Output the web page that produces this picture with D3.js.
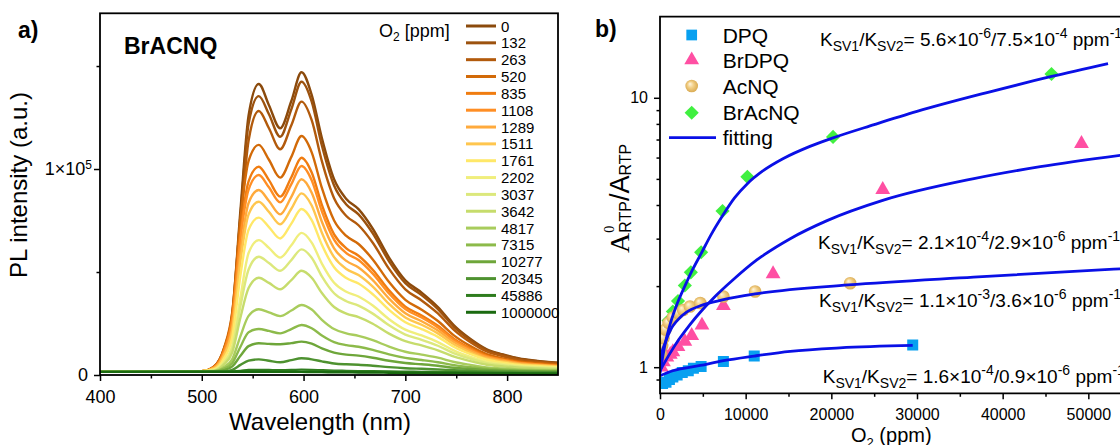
<!DOCTYPE html>
<html lang="en">
<head>
<meta charset="utf-8">
<title>BrACNQ oxygen quenching</title>
<script src="https://cdn.jsdelivr.net/npm/d3@7"></script>
<style>
  body { margin: 0; background: #fff; }
  svg { display: block; font-family: "Liberation Sans", Arial, sans-serif; }
  .axis line { stroke: #000; stroke-width: 1.5px; }
  .axis path { display: none; }
  .axis text { fill: #000; font-family: "Liberation Sans", Arial, sans-serif; }
</style>
</head>
<body>
<script>
// ---------- panel a: PL spectra, intensity in units of 10^3 a.u. ----------
const wavelengths = [400, 500, 512, 522, 530, 538, 546, 556, 566, 577, 588, 598, 608, 618, 630, 642, 654, 668, 684, 700, 716, 732, 748, 764, 780, 796, 812, 828, 850];

const s0 = [1.5, 1.8, 4.0, 13, 30, 80, 126, 141.3, 131, 119.8, 133, 147, 136, 115, 95, 85.5, 80.5, 71, 57, 46, 40, 33, 24, 17.5, 12.5, 10, 8, 7, 6];
const s132 = [1.5, 1.8, 3.9, 12.6, 29.1, 77.5, 122, 135.4, 126.6, 115.7, 129, 142.4, 132.7, 111.4, 92, 82.8, 78, 68.8, 55.2, 44.6, 38.8, 32, 23.3, 17, 12.1, 9.7, 7.8, 6.8, 5.8];
const s263 = [1.5, 1.8, 3.7, 11.8, 27.2, 72.3, 113.8, 128.2, 119.8, 109.6, 121.2, 132.7, 123.7, 103.8, 85.8, 77.2, 72.7, 64.2, 51.5, 41.6, 36.2, 29.9, 21.8, 15.9, 11.4, 9.1, 7.3, 6.4, 5.5];
const s520 = [1.5, 1.8, 4.1, 13.3, 30.7, 75.6, 104, 111.7, 104.5, 95.8, 105.9, 116, 108.1, 90.8, 75, 67.5, 63.6, 56.1, 45.1, 36.5, 31.7, 26.2, 19.1, 14, 10.1, 8.1, 6.6, 5.8, 5];
const s835 = [1.5, 1.8, 3.8, 12.1, 28, 68.8, 94, 101.1, 94.6, 86.6, 96, 105.5, 98.3, 82.6, 68.3, 61.5, 57.9, 51.1, 41.1, 33.2, 28.9, 23.9, 17.5, 12.9, 9.3, 7.5, 6.1, 5.3, 4.6];
const s1108 = [1.5, 1.8, 3.7, 11.7, 27, 66.2, 90, 97.1, 91.1, 83.8, 92.7, 101.5, 94.6, 79.5, 65.7, 59.2, 55.8, 49.2, 39.6, 32, 27.9, 23.1, 16.9, 12.4, 9, 7.3, 5.9, 5.2, 4.5];
const s1289 = [1.5, 1.8, 3.4, 10.3, 23.4, 59.5, 83.5, 89.8, 84.5, 78, 86.5, 95, 88.5, 74.4, 61.5, 55.4, 52.2, 46.1, 37.1, 30, 26.1, 21.6, 15.9, 11.7, 8.5, 6.9, 5.6, 4.9, 4.3];
const s1511 = [1.5, 1.8, 3.2, 9.6, 21.8, 55.3, 78, 84.1, 79.2, 73.2, 80.7, 88.2, 82.3, 69.1, 57.2, 51.5, 48.5, 42.9, 34.5, 27.9, 24.4, 20.2, 14.8, 10.9, 7.9, 6.5, 5.3, 4.7, 4.1];
const s1761 = [1.5, 1.8, 2.7, 8.2, 18.5, 48.4, 70.5, 76.4, 71.8, 66.3, 73.5, 80.6, 75.2, 63.2, 52.3, 47.1, 44.4, 39.2, 31.6, 25.6, 22.3, 18.5, 13.6, 10.1, 7.4, 6, 4.9, 4.4, 3.8];
const s2202 = [1.5, 1.8, 2.5, 6.7, 14.6, 37.8, 59.2, 65.5, 61.7, 57, 63, 69, 64.3, 54.1, 44.8, 40.4, 38.1, 33.7, 27.1, 22, 19.2, 16, 11.8, 8.8, 6.5, 5.3, 4.4, 3.9, 3.4];
const s3037 = [1.5, 1.8, 2.3, 6, 13, 33.5, 51.2, 57.4, 54.4, 50.6, 55.8, 61, 56.9, 47.9, 39.7, 35.8, 33.7, 29.8, 24.1, 19.6, 17.1, 14.2, 10.5, 7.9, 5.8, 4.8, 4, 3.6, 3.2];
const s3642 = [1.5, 1.8, 2.1, 5.2, 11, 27.9, 42.2, 47.2, 44.7, 41.6, 46.1, 50.6, 47.2, 39.8, 33, 29.8, 28.1, 24.9, 20.1, 16.4, 14.4, 12, 8.9, 6.7, 5, 4.2, 3.5, 3.2, 2.8];
const s4817 = [1.5, 1.7, 1.8, 3.9, 7.7, 18.9, 28.7, 31.9, 30.4, 28.6, 31.3, 34, 31.8, 26.8, 22.3, 20.2, 19, 16.9, 13.8, 11.3, 9.9, 8.4, 6.3, 4.9, 3.7, 3.2, 2.7, 2.5, 2.3];
const s7315 = [1.5, 1.7, 1.8, 3.1, 5.8, 13.7, 20.8, 22.3, 21.4, 20.2, 22.3, 24.3, 22.7, 19.2, 16, 14.5, 13.7, 12.2, 10, 8.3, 7.3, 6.2, 4.8, 3.8, 3, 2.6, 2.3, 2.1, 2];
const s10277 = [1.5, 1.6, 1.7, 2.4, 4.2, 9.3, 14, 15.4, 15.1, 14.9, 15.5, 16.2, 15.2, 12.9, 10.9, 9.9, 9.4, 8.4, 6.9, 5.8, 5.2, 4.5, 3.5, 2.9, 2.4, 2.1, 1.9, 1.8, 1.7];
const s20345 = [1.5, 1.5, 1.6, 1.7, 2.5, 4.9, 7, 7.6, 6.9, 6.2, 7.2, 8.1, 7.6, 6.6, 5.6, 5.2, 5, 4.5, 3.8, 3.3, 3, 2.7, 2.3, 2, 1.7, 1.6, 1.5, 1.4, 1.4];
const s45886 = [1.5, 1.5, 1.5, 1.5, 1.7, 2.0, 2.4, 2.5, 2.4, 2.3, 2.4, 2.6, 2.5, 2.3, 2.1, 2.0, 1.9, 1.8, 1.7, 1.6, 1.5, 1.4, 1.3, 1.2, 1.1, 1.0, 0.9, 0.9, 0.8];
const s1000000 = [1.5, 1.6, 1.6, 1.6, 1.6, 1.6, 1.6, 1.6, 1.5, 1.5, 1.5, 1.5, 1.4, 1.4, 1.3, 1.3, 1.2, 1.2, 1.1, 1.0, 1.0, 0.9, 0.9, 0.8, 0.8, 0.7, 0.7, 0.6, 0.6];

const o2Labels = ["0", "132", "263", "520", "835", "1108", "1289", "1511", "1761", "2202", "3037", "3642", "4817", "7315", "10277", "20345", "45886", "1000000"];
const spectra = [s0, s132, s263, s520, s835, s1108, s1289, s1511, s1761, s2202, s3037, s3642, s4817, s7315, s10277, s20345, s45886, s1000000];
const specColors = ["#8b4a0c", "#9c520e", "#b25a0c", "#d26a08", "#f07c10", "#ff8e24", "#ffaa3c", "#ffc64e", "#ffe868", "#f0ee7c", "#dce87c", "#c6dc6c", "#a8cc5c", "#8cba4a", "#6ea63a", "#4e9230", "#2e7c1e", "#1a6a10"];

// ---------- panel b: A0/A vs O2 ----------
const dpqO2 = [300, 700, 1100, 1500, 2000, 2600, 3300, 3900, 4800, 7400, 11000, 29500];
const dpqRatio = [0.87, 0.88, 0.9, 0.92, 0.935, 0.955, 0.97, 0.99, 1.005, 1.05, 1.10, 1.21];
const brdpqO2 = [150, 400, 800, 1200, 1500, 2100, 2900, 3700, 4900, 7400, 13200, 26000, 49200];
const brdpqRatio = [1.0, 1.045, 1.09, 1.115, 1.14, 1.19, 1.245, 1.31, 1.43, 1.69, 2.22, 4.56, 6.76];
const acnqO2 = [100, 250, 400, 650, 1000, 1500, 2100, 2700, 3500, 4700, 7400, 11100, 22200];
const acnqRatio = [1.12, 1.2, 1.28, 1.38, 1.46, 1.53, 1.59, 1.63, 1.68, 1.73, 1.83, 1.91, 2.05];
const bracnqO2 = [200, 600, 1000, 1500, 2100, 2900, 3600, 4800, 7300, 10200, 20200, 45700];
const bracnqRatio = [1.26, 1.37, 1.49, 1.61, 1.76, 2.01, 2.25, 2.67, 3.8, 5.09, 7.16, 12.25];

// fitted curves
const fitBrAcNQO2 = [0, 600, 1200, 2000, 2900, 3800, 4800, 6000, 7300, 8700, 10200, 12000, 14400, 17500, 20200, 25000, 30000, 38400, 45700, 52300];
const fitBrAcNQ = [0.95, 1.22, 1.45, 1.72, 2.0, 2.3, 2.64, 3.12, 3.65, 4.25, 4.8, 5.35, 5.95, 6.6, 7.1, 7.95, 8.9, 10.5, 12.0, 13.4];
const fitBrDPQO2 = [0, 1200, 2300, 3500, 4700, 6200, 8600, 11300, 15200, 19500, 26000, 36500, 44400, 54000];
const fitBrDPQ = [0.97, 1.13, 1.28, 1.44, 1.6, 1.8, 2.12, 2.5, 3.0, 3.5, 4.16, 5.0, 5.55, 6.13];
const fitAcNQO2 = [0, 200, 600, 1200, 2000, 3100, 4700, 7400, 11100, 22000, 36600, 54000];
const fitAcNQ = [1.0, 1.12, 1.23, 1.37, 1.49, 1.6, 1.69, 1.78, 1.87, 2.02, 2.16, 2.32];
const fitDPQO2 = [0, 1500, 4700, 7400, 11000, 15200, 21000, 29500];
const fitDPQ = [0.93, 0.97, 1.015, 1.057, 1.1, 1.145, 1.18, 1.205];

const seriesNames = ["DPQ", "BrDPQ", "AcNQ", "BrAcNQ", "fitting"];
const ksvLabels = [
  ["5.6", "-6", "7.5", "-4"],
  ["2.1", "-4", "2.9", "-6"],
  ["1.1", "-3", "3.6", "-6"],
  ["1.6", "-4", "0.9", "-6"]
];

const zip = (xs, ys) => xs.map((x, i) => [x, ys[i]]);

const svg = d3.select("body").append("svg")
  .attr("width", 1120)
  .attr("height", 445);

// ================= panel a =================
const xA = d3.scaleLinear().domain([400, 850]).range([100, 558]);
const yA = d3.scaleLinear().domain([0, 175.6]).range([375, 13.3]);

svg.append("clipPath").attr("id", "clipA")
  .append("rect").attr("x", 100).attr("y", 13.3).attr("width", 458).attr("height", 361.7);

const lineA = d3.line()
  .x(d => xA(d[0]))
  .y(d => yA(d[1]))
  .curve(d3.curveMonotoneX);

svg.append("g").attr("clip-path", "url(#clipA)")
  .selectAll("path")
  .data(spectra)
  .enter()
  .append("path")
  .attr("d", s => lineA(zip(wavelengths, s)))
  .attr("fill", "none")
  .attr("stroke", (s, i) => specColors[i])
  .attr("stroke-width", 2.4)
  .attr("stroke-linejoin", "round");

// axes a
svg.append("g").attr("class", "axis")
  .attr("transform", "translate(0,375)")
  .call(d3.axisBottom(xA).tickValues([450, 550, 650, 750]).tickSize(3.5).tickFormat(""));
svg.append("g").attr("class", "axis")
  .attr("transform", "translate(0,375)")
  .call(d3.axisBottom(xA).tickValues([400, 500, 600, 700, 800]).tickSize(6).tickPadding(9).tickFormat(d3.format("d")))
  .selectAll("text").attr("font-size", "18px");

svg.append("g").attr("class", "axis")
  .attr("transform", "translate(100,0)")
  .call(d3.axisLeft(yA).tickValues([50, 150]).tickSize(3.5).tickFormat(""));
const yAxisA = svg.append("g").attr("class", "axis")
  .attr("transform", "translate(100,0)")
  .call(d3.axisLeft(yA).tickValues([0, 100]).tickSize(6).tickPadding(6).tickFormat(d => d === 0 ? "0" : "1×10"));
yAxisA.selectAll("text").attr("font-size", "18px");
yAxisA.selectAll("text").filter(d => d === 100)
  .attr("dx", "4px")
  .append("tspan").attr("dy", "-0.5em").attr("font-size", "12px").text("5");

svg.append("rect")
  .attr("x", 100).attr("y", 13.3).attr("width", 458).attr("height", 361.7)
  .attr("fill", "none").attr("stroke", "#000").attr("stroke-width", 1.8);

svg.append("text").attr("x", 320).attr("y", 430)
  .attr("text-anchor", "middle").attr("font-size", "24px").text("Wavelength (nm)");
svg.append("text").attr("transform", "translate(27,185) rotate(-90)")
  .attr("text-anchor", "middle").attr("font-size", "24px").text("PL intensity (a.u.)");
svg.append("text").attr("x", 18).attr("y", 38)
  .attr("font-size", "23px").attr("font-weight", "bold").text("a)");
svg.append("text").attr("x", 124).attr("y", 54)
  .attr("font-size", "23px").attr("font-weight", "bold").text("BrACNQ");

// legend a
const legA = svg.append("g");
const o2t = legA.append("text").attr("x", 379).attr("y", 36.7).attr("font-size", "18px");
o2t.append("tspan").text("O");
o2t.append("tspan").attr("font-size", "12px").attr("dy", 4).text("2");
o2t.append("tspan").attr("dy", -4).text(" [ppm]");

const legRows = legA.selectAll("g.row")
  .data(o2Labels)
  .enter()
  .append("g")
  .attr("transform", (d, i) => `translate(0,${26 + i * 16.84})`);
legRows.append("line")
  .attr("x1", 466).attr("x2", 496)
  .attr("stroke", (d, i) => specColors[i])
  .attr("stroke-width", 3);
legRows.append("text")
  .attr("x", 501).attr("y", 5.5)
  .attr("font-size", "15px")
  .text(d => d);

// ================= panel b =================
const xB = d3.scaleLinear().domain([0, 60000]).range([660, 1174]);
const yB = d3.scaleLog().domain([0.8, 20]).range([393.3, 16.7]);

// gold sphere gradient for AcNQ
const defs = svg.append("defs");
const grad = defs.append("radialGradient").attr("id", "gold")
  .attr("cx", "50%").attr("cy", "50%").attr("r", "55%")
  .attr("fx", "35%").attr("fy", "32%");
grad.append("stop").attr("offset", "0%").attr("stop-color", "#fff7e2");
grad.append("stop").attr("offset", "45%").attr("stop-color", "#f2cf86");
grad.append("stop").attr("offset", "100%").attr("stop-color", "#d6a64c");

svg.append("clipPath").attr("id", "clipB")
  .append("rect").attr("x", 660).attr("y", 16.7).attr("width", 520).attr("height", 376.6);

const plotB = svg.append("g").attr("clip-path", "url(#clipB)");

const squareSym = d3.symbol().type(d3.symbolSquare);
const triSym = d3.symbol().type(d3.symbolTriangle);

// BrAcNQ diamonds
plotB.append("g").selectAll("path")
  .data(zip(bracnqO2, bracnqRatio))
  .enter()
  .append("path")
  .attr("d", squareSym.size(100)())
  .attr("transform", d => `translate(${xB(d[0])},${yB(d[1])}) rotate(45)`)
  .attr("fill", "#40f040");

// BrDPQ triangles
plotB.append("g").selectAll("path")
  .data(zip(brdpqO2, brdpqRatio))
  .enter()
  .append("path")
  .attr("d", triSym.size(95)())
  .attr("transform", d => `translate(${xB(d[0])},${yB(d[1])})`)
  .attr("fill", "#ff4fa3");

// AcNQ spheres
plotB.append("g").selectAll("circle")
  .data(zip(acnqO2, acnqRatio))
  .enter()
  .append("circle")
  .attr("cx", d => xB(d[0]))
  .attr("cy", d => yB(d[1]))
  .attr("r", 6.3)
  .attr("fill", "url(#gold)");

// DPQ squares
plotB.append("g").selectAll("path")
  .data(zip(dpqO2, dpqRatio))
  .enter()
  .append("path")
  .attr("d", squareSym.size(121)())
  .attr("transform", d => `translate(${xB(d[0])},${yB(d[1])})`)
  .attr("fill", "#08a0f0");

// fits
const lineB = d3.line()
  .x(d => xB(d[0]))
  .y(d => yB(d[1]))
  .curve(d3.curveMonotoneX);
const fits = [zip(fitBrAcNQO2, fitBrAcNQ), zip(fitBrDPQO2, fitBrDPQ), zip(fitAcNQO2, fitAcNQ), zip(fitDPQO2, fitDPQ)];
plotB.append("g").selectAll("path")
  .data(fits)
  .enter()
  .append("path")
  .attr("d", lineB)
  .attr("fill", "none")
  .attr("stroke", "#0a10e6")
  .attr("stroke-width", 2.8);

// axes b
svg.append("g").attr("class", "axis")
  .attr("transform", "translate(0,393.3)")
  .call(d3.axisBottom(xB).tickValues([5000, 15000, 25000, 35000, 45000, 55000]).tickSize(3.5).tickFormat(""));
svg.append("g").attr("class", "axis")
  .attr("transform", "translate(0,393.3)")
  .call(d3.axisBottom(xB).tickValues([0, 10000, 20000, 30000, 40000, 50000]).tickSize(6).tickPadding(9).tickFormat(d3.format("d")))
  .selectAll("text").attr("font-size", "16px");

svg.append("g").attr("class", "axis")
  .attr("transform", "translate(660,0)")
  .call(d3.axisLeft(yB).tickValues([0.9, 2, 3, 4, 5, 6, 7, 8, 9]).tickSize(3.5).tickFormat(""));
svg.append("g").attr("class", "axis")
  .attr("transform", "translate(660,0)")
  .call(d3.axisLeft(yB).tickValues([1, 10]).tickSize(6).tickPadding(6).tickFormat(d3.format("d")))
  .selectAll("text").attr("font-size", "16px");

// frame b (right side is off canvas)
svg.append("path")
  .attr("d", "M1120,16.7H660V393.3H1120")
  .attr("fill", "none").attr("stroke", "#000").attr("stroke-width", 1.8);

svg.append("text").attr("x", 595).attr("y", 37)
  .attr("font-size", "23px").attr("font-weight", "bold").text("b)");

const xl = svg.append("text").attr("x", 851).attr("y", 441.5).attr("font-size", "20px");
xl.append("tspan").text("O");
xl.append("tspan").attr("font-size", "13px").attr("dy", 5).text("2");
xl.append("tspan").attr("dy", -5).text(" (ppm)");

const yl = svg.append("text").attr("transform", "translate(629,253) rotate(-90)");
yl.append("tspan").attr("font-family", "Liberation Serif, Times New Roman, serif").attr("font-size", "28px").text("A");
yl.append("tspan").attr("font-family", "Liberation Serif, Times New Roman, serif").attr("font-size", "14px").attr("dy", -15).text("0");
yl.append("tspan").attr("font-size", "16px").attr("dx", -7).attr("dy", 17).text("RTP");
yl.append("tspan").attr("font-size", "27px").attr("dy", -2).text("/A");
yl.append("tspan").attr("font-size", "16px").attr("dy", 2).text("RTP");

// legend b
const legB = svg.append("g");
const legY = [35, 60, 86, 112.7, 137.7];
legB.append("path").attr("d", squareSym.size(115)())
  .attr("transform", `translate(691.7,${legY[0]})`).attr("fill", "#08a0f0");
legB.append("path").attr("d", triSym.size(95)())
  .attr("transform", `translate(691.7,${legY[1]})`).attr("fill", "#ff4fa3");
legB.append("circle").attr("cx", 691.7).attr("cy", legY[2]).attr("r", 6.3).attr("fill", "url(#gold)");
legB.append("path").attr("d", squareSym.size(100)())
  .attr("transform", `translate(691.7,${legY[3]}) rotate(45)`).attr("fill", "#40f040");
legB.append("line").attr("x1", 669).attr("x2", 716).attr("y1", legY[4]).attr("y2", legY[4])
  .attr("stroke", "#0a10e6").attr("stroke-width", 2.8);
legB.selectAll("text")
  .data(seriesNames)
  .enter()
  .append("text")
  .attr("x", 722.7)
  .attr("y", (d, i) => legY[i] + 7.5)
  .attr("font-size", "21px")
  .text(d => d);

// Ksv annotations
const ksvPos = [[820, 46], [818, 249.3], [819, 307.3], [822.7, 383.3]];
ksvLabels.forEach((k, i) => {
  const t = svg.append("text").attr("x", ksvPos[i][0]).attr("y", ksvPos[i][1]).attr("font-size", "19px");
  t.append("tspan").text("K");
  t.append("tspan").attr("font-size", "14px").attr("dy", 5).text("SV1");
  t.append("tspan").attr("dy", -5).text("/K");
  t.append("tspan").attr("font-size", "14px").attr("dy", 5).text("SV2");
  t.append("tspan").attr("dy", -5).text("= " + k[0] + "×10");
  t.append("tspan").attr("font-size", "14px").attr("dy", -8).text(k[1]);
  t.append("tspan").attr("dy", 8).text("/" + k[2] + "×10");
  t.append("tspan").attr("font-size", "14px").attr("dy", -8).text(k[3]);
  t.append("tspan").attr("dy", 8).text(" ppm");
  t.append("tspan").attr("font-size", "14px").attr("dy", -8).text("-1");
});
</script>
</body>
</html>
